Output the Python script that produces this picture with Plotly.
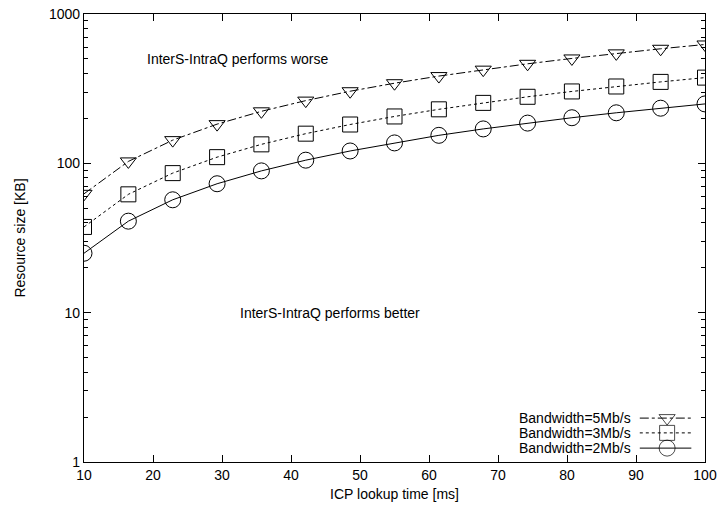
import plotly.graph_objects as go

# ICP lookup time [ms]
lookup_ms = [10, 16.43, 22.86, 29.29, 35.71, 42.14, 48.57, 55.0, 61.43,
             67.86, 74.29, 80.71, 87.14, 93.57, 100]

# Resource size [KB] at which both schemes break even, per bandwidth
size_5mbps = [62.5, 103, 143, 183, 223, 263, 304, 344, 384, 424, 464, 504, 545, 585, 625]
size_3mbps = [37.5, 62, 86, 110, 134, 158, 182, 206, 230, 254, 279, 303, 327, 351, 375]
size_2mbps = [25, 41, 57, 73, 89, 105, 121, 137, 154, 170, 186, 202, 218, 234, 250]

series_names = ["Bandwidth=5Mb/s", "Bandwidth=3Mb/s", "Bandwidth=2Mb/s"]
x_ticks = [10, 20, 30, 40, 50, 60, 70, 80, 90, 100]
y_ticks = [1, 10, 100, 1000]

FONT = "Liberation Sans, Arial, Helvetica, sans-serif"
FS = 14

styles = [
    dict(dash="dashdot", symbol="triangle-down-open", size=14),
    dict(dash="dot", symbol="square-open", size=15),
    dict(dash="solid", symbol="circle-open", size=16),
]

fig = go.Figure()
for name, ys, st in zip(series_names, [size_5mbps, size_3mbps, size_2mbps], styles):
    fig.add_trace(go.Scatter(
        x=lookup_ms, y=ys, name=name, mode="lines+markers",
        line=dict(color="black", width=1, dash=st["dash"]),
        marker=dict(symbol=st["symbol"], size=st["size"], color="black",
                    line=dict(color="black", width=1)),
        showlegend=False,
    ))

# Key in the lower right corner: label on the left, line sample on the right
key_rows = [0.098, 0.065, 0.031]
for name, st, ky in zip(series_names, styles, key_rows):
    fig.add_trace(go.Scatter(
        x=[0.895, 0.939, 0.978], y=[ky, ky, ky], xaxis="x2", yaxis="y2",
        mode="lines+markers",
        line=dict(color="black", width=1, dash=st["dash"]),
        marker=dict(symbol=st["symbol"], size=[0, st["size"], 0], color="black",
                    line=dict(color="black", width=1)),
        showlegend=False, hoverinfo="skip",
    ))
    fig.add_annotation(xref="paper", yref="paper", x=0.884, y=ky, text=name,
                       showarrow=False, xanchor="right", yanchor="middle",
                       font=dict(family=FONT, size=FS, color="black"))

# Region labels (y positions in log10 units)
fig.add_annotation(x=32.2, y=2.70, xref="x", yref="y", text="InterS-IntraQ performs worse",
                   showarrow=False, font=dict(family=FONT, size=FS, color="black"))
fig.add_annotation(x=45.65, y=1.0, xref="x", yref="y", text="InterS-IntraQ performs better",
                   showarrow=False, font=dict(family=FONT, size=FS, color="black"))

axis_common = dict(
    showline=True, linecolor="black", linewidth=1.2, mirror="allticks",
    ticks="inside", ticklen=7, tickcolor="black", tickwidth=1,
    showgrid=False, zeroline=False, automargin=False,
    tickfont=dict(family=FONT, size=FS, color="black"),
)

fig.update_layout(
    width=719, height=509,
    margin=dict(l=84, r=14, t=14, b=47),
    paper_bgcolor="white", plot_bgcolor="white",
    xaxis=dict(range=[10, 100], tickvals=x_ticks, ticklabeloverflow="allow",
               title=dict(text="ICP lookup time [ms]", standoff=7,
                          font=dict(family=FONT, size=FS, color="black")),
               **axis_common),
    yaxis=dict(type="log", range=[0, 3], tickvals=y_ticks, ticktext=[str(v) for v in y_ticks],
               minor=dict(ticks="inside", ticklen=4, tickcolor="black", dtick="D1"),
               title=dict(text="Resource size [KB]", standoff=20,
                          font=dict(family=FONT, size=FS, color="black")),
               **axis_common),
    xaxis2=dict(range=[0, 1], overlaying="x", visible=False, fixedrange=True),
    yaxis2=dict(range=[0, 1], overlaying="y", visible=False, fixedrange=True),
    showlegend=False,
)

fig.write_html("out.html")
